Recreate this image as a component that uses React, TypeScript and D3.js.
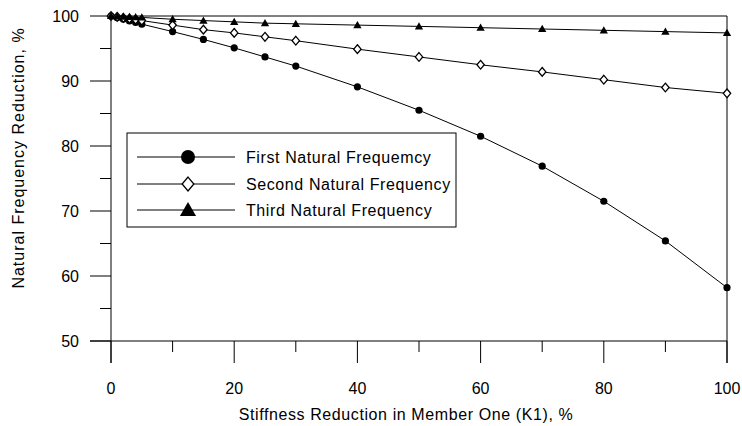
import * as d3 from "d3";

// stiffness reduction in member one (K1), %
const reductions = [0, 1, 2, 3, 4, 5, 10, 15, 20, 25, 30, 40, 50, 60, 70, 80, 90, 100];

// natural frequency reduction, %
const firstFreq = [100, 99.75, 99.5, 99.25, 99.0, 98.75, 97.6, 96.4, 95.1, 93.7, 92.3, 89.1, 85.5, 81.5, 76.9, 71.5, 65.4, 58.2];
const secondFreq = [100, 99.87, 99.73, 99.6, 99.45, 99.3, 98.6, 97.9, 97.4, 96.8, 96.2, 94.9, 93.7, 92.5, 91.4, 90.2, 89.0, 88.1];
const thirdFreq = [100, 99.95, 99.9, 99.86, 99.82, 99.78, 99.5, 99.3, 99.1, 98.9, 98.8, 98.6, 98.4, 98.2, 98.0, 97.8, 97.6, 97.4];

const seriesNames = ["First Natural Frequemcy", "Second Natural Frequency", "Third Natural Frequency"];

const xMajor = [0, 20, 40, 60, 80, 100];
const xMinor = [10, 30, 50, 70, 90];
const yMajor = [50, 60, 70, 80, 90, 100];
const yMinor = [55, 65, 75, 85, 95];

const W = 742;
const H = 426;
const FONT = "'Liberation Sans', Arial, sans-serif";
const FS = 16;

type Kind = "circle" | "diamond" | "triangle";

function Marker({ kind, x, y, s }: { kind: Kind; x: number; y: number; s: number }) {
  if (kind === "circle") return <circle cx={x} cy={y} r={s} fill="#000" />;
  if (kind === "diamond") {
    const d = s * 1.15;
    return (
      <path
        d={`M${x},${y - d}L${x + d * 0.85},${y}L${x},${y + d}L${x - d * 0.85},${y}Z`}
        fill="#fff"
        stroke="#000"
        strokeWidth={1.3}
      />
    );
  }
  const t = s * 1.15;
  return <path d={`M${x},${y - t}L${x + t},${y + t * 0.75}L${x - t},${y + t * 0.75}Z`} fill="#000" />;
}

export default function App() {
  const x = d3.scaleLinear().domain([0, 100]).range([111, 727]);
  const y = d3.scaleLinear().domain([50, 100]).range([341, 16]);

  const series: { name: string; values: number[]; kind: Kind; size: number }[] = [
    { name: seriesNames[0], values: firstFreq, kind: "circle", size: 3.6 },
    { name: seriesNames[1], values: secondFreq, kind: "diamond", size: 3.8 },
    { name: seriesNames[2], values: thirdFreq, kind: "triangle", size: 3.6 },
  ];

  const line = d3
    .line<number>()
    .x((_d, i) => x(reductions[i]))
    .y((d) => y(d));

  const left = x(0);
  const right = x(100);
  const top = y(100);
  const bottom = y(50);

  // legend box
  const lg = { x: 127, y: 133, w: 329, h: 94 };
  const rowY = [157, 184, 210];

  return (
    <svg
      width={W}
      height={H}
      style={{ position: "absolute", left: 0, top: 0, background: "#fff" }}
      fontFamily={FONT}
    >
      {/* frame */}
      <line x1={left} x2={right} y1={top} y2={top} stroke="#000" />
      <line x1={right} x2={right} y1={top} y2={bottom + 22} stroke="#000" />
      <line x1={left} x2={left} y1={top} y2={bottom + 22} stroke="#000" />
      <line x1={left - 21} x2={right} y1={bottom} y2={bottom} stroke="#000" />

      {/* y ticks */}
      {yMajor.map((v) => (
        <g key={v}>
          <line x1={left - 21} x2={left} y1={y(v)} y2={y(v)} stroke="#000" />
          <text x={left - 32} y={y(v)} dy="0.36em" textAnchor="end" fontSize={FS}>
            {v}
          </text>
        </g>
      ))}
      {yMinor.map((v) => (
        <line key={v} x1={left - 11} x2={left} y1={y(v)} y2={y(v)} stroke="#000" />
      ))}

      {/* x ticks */}
      {xMajor.map((v) => (
        <g key={v}>
          <line x1={x(v)} x2={x(v)} y1={bottom} y2={bottom + 22} stroke="#000" />
          <text x={x(v)} y={bottom + 47} dy="0.36em" textAnchor="middle" fontSize={FS}>
            {v}
          </text>
        </g>
      ))}
      {xMinor.map((v) => (
        <line key={v} x1={x(v)} x2={x(v)} y1={bottom} y2={bottom + 11} stroke="#000" />
      ))}

      {/* axis titles */}
      <text x={406} y={414} dy="0.36em" textAnchor="middle" fontSize={FS} letterSpacing={0.6}>
        Stiffness Reduction in Member One (K1), %
      </text>
      <text
        transform={`translate(18,${158}) rotate(-90)`}
        dy="0.36em"
        textAnchor="middle"
        fontSize={FS}
        letterSpacing={1}
      >
        Natural Frequency Reduction, %
      </text>

      {/* series */}
      {series.map((s) => (
        <g key={s.name}>
          <path d={line(s.values) || ""} fill="none" stroke="#000" strokeWidth={1} />
          {s.values.map((v, i) => (
            <Marker key={i} kind={s.kind} x={x(reductions[i])} y={y(v)} s={s.size} />
          ))}
        </g>
      ))}

      {/* legend */}
      <rect x={lg.x} y={lg.y} width={lg.w} height={lg.h} fill="#fff" stroke="#000" />
      {series.map((s, i) => (
        <g key={s.name}>
          <line x1={137} x2={235} y1={rowY[i]} y2={rowY[i]} stroke="#000" />
          <Marker kind={s.kind} x={188} y={rowY[i]} s={s.kind === "diamond" ? 6 : 7} />
          <text x={246} y={rowY[i]} dy="0.36em" fontSize={FS} letterSpacing={0.6}>
            {s.name}
          </text>
        </g>
      ))}
    </svg>
  );
}
